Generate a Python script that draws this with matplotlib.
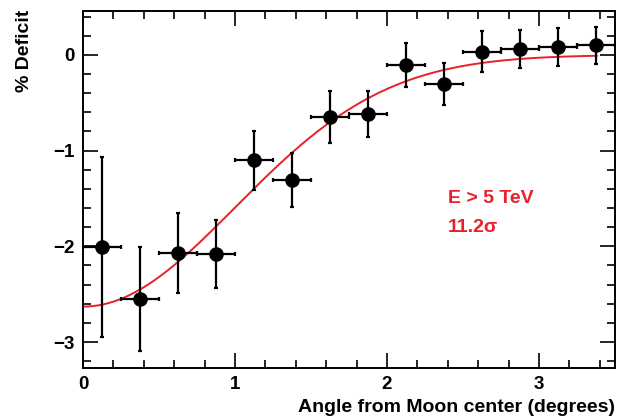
import numpy as np
import matplotlib
matplotlib.use("Agg")
import matplotlib.pyplot as plt
from matplotlib.ticker import MultipleLocator

plt.rcParams["font.family"] = ["Liberation Sans", "DejaVu Sans"]
plt.rcParams["font.weight"] = "bold"

# Binned deficit vs angular distance from the Moon
angle = [0.125, 0.375, 0.625, 0.875, 1.125, 1.375, 1.625, 1.875,
         2.125, 2.375, 2.625, 2.875, 3.125, 3.375]
deficit = [-2.01, -2.55, -2.07, -2.08, -1.10, -1.31, -0.65, -0.62,
           -0.11, -0.30, 0.035, 0.065, 0.085, 0.10]
deficit_err = [0.94, 0.54, 0.42, 0.36, 0.31, 0.28, 0.27, 0.24,
               0.23, 0.22, 0.21, 0.20, 0.20, 0.19]
bin_half = 0.125

# Gaussian fit parameters
fit_amp = -2.63
fit_sigma = 1.0
fit_xmax = 3.38

fig = plt.figure(figsize=(6.19, 4.19), dpi=100)
ax = fig.add_axes([0.134, 0.122, 0.8595, 0.852])

xs = np.linspace(0, fit_xmax, 300)
ax.plot(xs, fit_amp * np.exp(-xs**2 / (2 * fit_sigma**2)),
        color="#e8202a", lw=1.4, zorder=2)

ax.errorbar(angle, deficit, xerr=bin_half, yerr=deficit_err,
            fmt="o", color="black", ms=9.5, elinewidth=1.6, capsize=1.5,
            capthick=1.6, zorder=3)

ax.set_xlim(0, 3.5)
ax.set_ylim(-3.27, 0.46)
ax.xaxis.set_major_locator(MultipleLocator(1))
ax.xaxis.set_minor_locator(MultipleLocator(0.2))
ax.yaxis.set_major_locator(MultipleLocator(1))
ax.yaxis.set_minor_locator(MultipleLocator(0.2))
ax.tick_params(which="both", direction="in", top=True, right=True,
               labelsize=13.5, width=1.2)
ax.tick_params(which="major", length=11, pad=6)
ax.tick_params(which="minor", length=6)
for sp in ax.spines.values():
    sp.set_linewidth(1.4)

ax.text(2.40, -1.55, "E > 5 TeV", color="#e8202a", fontsize=14,
        va="baseline")
ax.text(2.40, -1.85, "11.2σ", color="#e8202a", fontsize=14,
        va="baseline")

fig.text(0.04, 0.976, "% Deficit", rotation=90, ha="center", va="top",
         fontsize=14)
fig.text(0.9935, 0.028, "Angle from Moon center (degrees)", ha="right",
         va="center", fontsize=14)

fig.savefig("out.png", dpi=100)
